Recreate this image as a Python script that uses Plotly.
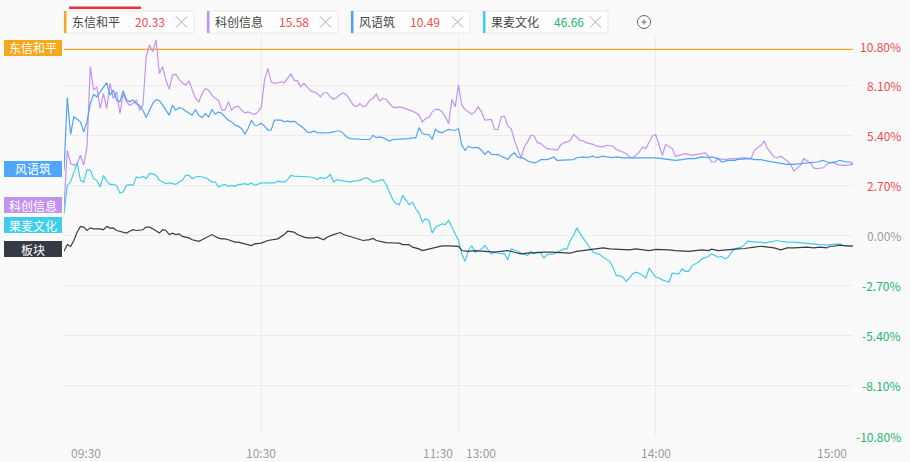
import plotly.graph_objects as go

# ---------------- data (minutes after 09:30 on a 240-minute trading axis, % change) ----------------
dxhp_min = [0, 240]
dxhp_pct = [10.03, 10.03]

kcxx_min = [0,1,2,3,4,5,6,7,8,9,10,11,12,13,14,15,16,17,18,19,20,21,22,23,24,25,26,27,28,29,30,31,32,33,34,35,36,37,38,39,
            40,41,42,43,44,45,46,47,48,49,50,51,52,53,54,55,56,57,58,59,60,61,62,63,64,65,66,67,68,69,70,71,72,73,74,75,76,77,78,79,
            80,81,82,83,84,85,86,87,88,89,90,91,92,93,94,95,96,97,98,99,100,101,102,103,104,105,106,107,108,109,110,111,112,113,114,115,116,117,118,119,
            120,121,122,124,125,126,127,128,130,131,132,133,134,135,136,137,138,139,140,141,142,143,144,145,146,147,149,150,151,152,153,154,155,156,157,158,159,161,162,164,165,167,168,170,171,172,173,174,175,176,177,178,179,
            180,182,183,185,186,189,191,193,195,196,197,198,199,201,203,205,207,209,210,212,213,214,216,217,218,220,221,222,224,225,227,228,229,231,232,234,235,237,238,240]
kcxx_pct = [1.53,4.59,3.87,3.78,3.87,4.32,3.78,4.77,9.09,7.83,8.01,6.84,7.65,6.84,8.19,7.38,7.74,6.57,7.65,7.20,7.02,7.11,7.29,6.75,7.00,9.63,10.26,9.90,10.53,8.73,9.09,8.37,7.87,8.64,8.69,8.41,8.23,8.10,8.33,7.83,
            7.38,7.20,7.65,7.92,7.83,7.56,7.38,7.29,6.75,6.75,7.20,6.75,6.93,6.97,6.75,6.61,6.66,6.57,6.53,6.66,6.90,8.37,9.00,8.28,8.19,8.23,8.28,8.23,8.46,8.69,8.37,8.33,8.01,8.19,8.01,7.79,7.74,7.65,7.47,7.69,
            7.69,7.47,7.34,7.43,7.61,7.69,7.56,7.29,7.02,6.93,7.11,6.93,7.02,7.29,7.38,7.61,7.25,7.38,7.33,7.11,6.93,6.88,6.93,6.89,6.84,6.75,6.70,6.61,6.48,6.12,6.30,6.35,6.66,6.80,6.79,6.66,6.39,6.03,7.33,6.93,
            8.10,7.02,6.79,6.53,6.66,6.93,6.66,6.21,6.25,5.71,5.71,6.39,6.43,5.89,5.76,5.13,4.68,4.19,4.77,5.04,5.40,5.36,5.00,4.95,4.81,4.68,4.64,4.59,4.86,4.99,5.04,5.13,5.44,5.26,5.13,5.09,4.99,4.91,4.81,4.77,4.86,4.81,4.63,4.50,4.41,4.23,4.19,4.32,4.50,4.77,4.68,5.04,5.36,
            5.44,4.32,4.91,4.68,4.27,4.41,4.32,4.37,4.45,4.27,3.96,3.96,4.14,4.09,4.14,4.14,4.19,4.14,4.59,4.86,5.08,4.68,4.23,4.19,4.27,4.01,3.83,3.47,3.78,4.14,3.91,3.64,3.60,3.65,3.83,3.96,3.83,3.78,3.78,3.83]

fyz_min = [0,1,2,3,5,6,7,8,9,10,11,12,13,14,15,16,17,18,19,20,21,22,23,24,25,26,27,28,29,30,31,32,33,34,35,36,37,38,39,
           40,41,42,43,44,45,46,47,48,49,50,51,52,53,54,55,56,57,58,59,60,61,62,63,64,66,67,68,69,70,71,72,73,74,75,76,77,78,79,
           81,83,84,85,86,87,88,90,91,93,94,95,96,97,98,99,100,102,103,105,106,107,108,109,110,111,112,113,114,115,116,117,118,119,
           120,121,122,123,124,126,127,128,129,130,132,133,135,136,137,138,139,140,141,143,144,145,147,148,149,150,153,155,156,158,159,161,162,164,165,167,168,170,
           180,182,184,186,188,190,192,194,196,197,199,200,202,204,205,207,209,210,212,214,216,218,220,222,224,226,228,229,231,232,234,236,238,239,240]
fyz_pct = [3.51,7.43,5.44,6.39,6.12,5.58,6.12,7.11,7.60,7.47,7.74,8.01,8.23,7.56,7.83,7.29,7.20,7.80,7.30,7.20,7.30,7.10,7.00,6.75,6.35,6.75,7.11,7.33,7.26,7.02,6.75,6.48,7.02,6.75,6.88,6.84,6.71,6.57,6.48,
           6.79,6.48,6.35,6.57,6.39,6.79,6.53,6.66,6.57,6.39,6.21,6.12,5.94,5.89,5.76,5.45,5.76,6.21,5.94,5.94,6.05,5.89,5.67,5.67,6.21,6.21,6.12,6.17,6.12,6.16,6.03,5.89,5.76,5.58,5.54,5.63,5.54,5.53,5.53,
           5.54,5.63,5.63,5.49,5.31,5.22,5.20,5.17,5.17,5.17,5.40,5.27,5.31,5.27,5.17,5.09,5.17,5.18,5.22,5.22,5.26,5.26,5.81,5.49,5.44,5.44,5.18,5.71,5.58,5.53,5.63,5.71,5.67,5.67,
           5.76,4.86,4.59,4.81,4.73,4.73,4.59,4.37,4.55,4.37,4.36,4.27,4.09,4.32,4.45,4.23,4.19,4.14,4.01,3.91,3.96,4.09,4.09,4.14,4.23,4.05,4.05,4.09,4.19,4.23,4.19,4.27,4.19,4.27,4.23,4.19,4.23,4.18,
           4.18,4.14,4.09,4.05,4.09,4.14,4.14,4.23,4.19,4.23,4.14,3.96,4.05,4.05,4.10,4.14,4.14,4.09,4.09,4.01,3.96,3.87,3.83,3.83,3.87,3.91,3.96,3.96,4.05,3.96,3.91,4.05,3.96,3.96,3.87]

gmwh_min = [0,1,2,3,4,5,6,7,8,9,10,11,12,13,14,15,16,17,18,19,20,21,22,23,24,25,26,27,28,29,30,31,32,34,35,36,37,38,39,
            40,41,43,44,45,46,47,48,49,50,51,52,53,54,55,56,57,58,59,60,62,64,65,67,68,69,70,72,73,75,76,77,78,79,
            80,81,82,83,84,85,87,88,90,91,92,93,94,96,97,98,99,100,101,102,103,104,105,106,107,108,109,110,111,112,113,114,115,116,117,118,119,
            120,121,122,123,124,125,126,127,128,129,130,131,132,134,135,136,137,138,139,140,141,142,143,144,145,146,147,149,150,151,152,153,154,155,156,157,158,159,160,161,163,164,166,167,168,169,170,171,172,173,174,175,176,177,178,179,
            180,181,182,184,185,187,188,189,190,191,193,194,196,197,198,199,200,201,202,203,204,206,207,208,210,212,213,215,217,218,220,222,224,226,228,230,232,234,236,237,240]
gmwh_pct = [1.17,2.70,2.88,3.42,3.91,2.97,2.88,3.55,3.51,3.06,2.97,2.61,3.24,2.93,2.75,2.75,2.70,2.29,2.34,2.70,2.74,2.70,3.15,3.11,3.19,3.06,3.33,3.33,3.24,2.97,2.88,2.79,2.83,2.75,2.88,2.97,3.24,3.24,3.06,
            3.15,3.19,3.11,3.01,2.88,2.88,2.61,2.70,2.75,2.65,2.70,2.65,2.75,2.75,2.79,2.74,2.83,2.70,2.75,2.83,2.83,2.83,2.93,2.88,3.01,3.24,3.20,3.19,3.15,3.15,3.11,3.01,3.11,3.06,
            3.11,3.29,2.88,3.01,2.97,2.93,2.88,2.93,2.97,3.06,3.11,3.01,2.88,2.97,3.01,2.75,2.34,1.93,1.71,1.66,2.16,1.89,1.66,1.80,1.44,1.21,0.72,0.90,0.81,0.13,0.45,0.54,0.63,0.59,0.81,0.45,0.09,
            -0.27,-0.99,-1.39,-0.81,-0.54,-0.90,-0.85,-0.72,-0.54,-0.77,-0.99,-0.90,-0.95,-0.99,-1.31,-0.72,-0.77,-0.85,-0.95,-1.03,-1.08,-0.85,-0.99,-0.90,-0.95,-1.21,-1.03,-0.99,-0.90,-0.77,-0.72,-0.72,-0.27,0.00,0.41,0.09,-0.13,-0.41,-0.67,-0.90,-1.03,-1.17,-1.39,-1.71,-2.16,-2.16,-2.25,-2.47,-2.29,-2.07,-1.98,-2.03,-2.16,-2.29,-1.75,-2.03,
            -2.25,-2.29,-2.39,-2.52,-2.03,-2.07,-1.80,-1.93,-1.93,-1.62,-1.44,-1.26,-1.13,-0.99,-1.08,-1.17,-1.13,-1.26,-1.17,-0.90,-0.72,-0.63,-0.49,-0.31,-0.36,-0.36,-0.41,-0.36,-0.27,-0.31,-0.36,-0.36,-0.40,-0.41,-0.45,-0.49,-0.50,-0.49,-0.45,-0.54,-0.54]

bk_min = [0,1,2,3,4,5,6,7,8,9,10,11,12,13,14,15,16,17,18,19,20,21,22,23,24,25,26,27,28,29,30,31,32,33,34,35,36,37,38,39,
          40,41,42,43,44,45,46,47,48,49,50,51,52,53,54,55,56,57,58,59,60,62,64,65,67,68,70,71,73,74,76,77,79,
          80,82,84,85,87,88,90,91,93,94,95,97,98,100,102,103,105,106,108,109,111,112,114,115,117,118,
          120,121,123,125,127,129,131,133,135,137,139,141,143,146,148,150,152,154,156,158,160,162,164,166,168,170,172,174,176,178,
          180,182,184,186,188,190,192,194,196,197,199,201,203,205,207,209,210,212,214,216,218,220,222,224,226,228,230,232,233,234,236,238,240]
bk_pct = [-0.85,-0.49,-0.59,-0.27,0.18,0.49,0.45,0.27,0.41,0.36,0.36,0.36,0.31,0.49,0.40,0.41,0.27,0.23,0.18,0.13,0.23,0.31,0.27,0.27,0.31,0.45,0.45,0.36,0.23,0.13,0.31,0.27,0.05,0.13,0.05,0.09,-0.05,-0.09,-0.13,-0.23,
          -0.27,-0.31,-0.23,-0.13,-0.05,0.05,-0.05,-0.14,-0.18,-0.18,-0.23,-0.31,-0.36,-0.36,-0.41,-0.45,-0.49,-0.54,-0.45,-0.41,-0.41,-0.27,-0.22,-0.18,0.05,0.23,0.18,0.05,-0.09,-0.13,-0.13,-0.09,-0.23,
          -0.09,0.05,0.16,0.05,-0.05,-0.09,-0.18,-0.27,-0.22,-0.16,-0.27,-0.34,-0.38,-0.40,-0.41,-0.49,-0.49,-0.63,-0.72,-0.81,-0.72,-0.67,-0.59,-0.56,-0.56,-0.56,
          -0.59,-0.81,-0.85,-0.81,-0.85,-0.85,-0.90,-0.85,-0.81,-0.90,-0.99,-0.95,-0.92,-0.90,-0.90,-0.92,-0.90,-0.95,-0.85,-0.81,-0.77,-0.72,-0.67,-0.72,-0.74,-0.74,-0.77,-0.72,-0.77,-0.81,
          -0.75,-0.74,-0.77,-0.81,-0.85,-0.85,-0.81,-0.77,-0.81,-0.74,-0.81,-0.77,-0.77,-0.72,-0.70,-0.67,-0.63,-0.58,-0.63,-0.67,-0.77,-0.67,-0.67,-0.63,-0.63,-0.67,-0.63,-0.67,-0.58,-0.58,-0.52,-0.56,-0.58]

tab_names = ["东信和平", "科创信息", "风语筑", "果麦文化"]
tab_prices = ["20.33", "15.58", "10.49", "46.66"]
tag_names = ["东信和平", "风语筑", "科创信息", "果麦文化", "板块"]
y_ticks = [10.8, 8.1, 5.4, 2.7, 0.0, -2.7, -5.4, -8.1, -10.8]
x_ticks = [0, 60, 120, 120, 180, 240]
x_labels = ["09:30", "10:30", "11:30", "13:00", "14:00", "15:00"]

# ---------------- style ----------------
C_ORANGE = "#f7a71c"
C_PURPLE = "#c393f3"
C_BLUE = "#4ea3f7"
C_CYAN = "#42cdef"
C_DARK = "#373b46"
RED = "#ef4a4c"
GREEN = "#22b46c"
GRAY = "#9a9a9a"
FONT = "Noto Sans CJK SC, Microsoft YaHei, sans-serif"

W, H = 910, 462
L, R, T, B = 64, 853, 35, 436


def px(x):
    return (x - L) / (R - L)


def py(y):
    return (B - y) / (B - T)


fig = go.Figure()
for xs, ys, col in [(dxhp_min, dxhp_pct, C_ORANGE), (kcxx_min, kcxx_pct, C_PURPLE),
                    (fyz_min, fyz_pct, C_BLUE), (gmwh_min, gmwh_pct, C_CYAN),
                    (bk_min, bk_pct, C_DARK)]:
    fig.add_trace(go.Scatter(x=xs, y=ys, mode="lines", line=dict(color=col, width=1.2),
                             hoverinfo="skip", showlegend=False))

shapes = []
annotations = []

# top tabs
tab_boxes = [(64, 194), (207, 338), (351, 470), (483, 608)]
tab_accent = [C_ORANGE, C_PURPLE, C_BLUE, C_CYAN]
tab_price_x = [133, 277, 408, 552]
tab_price_col = [RED, RED, RED, GREEN]
for i, (x0, x1) in enumerate(tab_boxes):
    shapes.append(dict(type="rect", xref="paper", yref="paper", x0=px(x0), x1=px(x1), y0=py(33), y1=py(11),
                       fillcolor="#ffffff", line=dict(color="#e8e8e8", width=1), layer="above"))
    shapes.append(dict(type="rect", xref="paper", yref="paper", x0=px(x0), x1=px(x0 + 2.5), y0=py(33), y1=py(11),
                       fillcolor=tab_accent[i], line=dict(width=0), layer="above"))
    annotations.append(dict(xref="paper", yref="paper", x=px(x0 + 6), y=py(22), xanchor="left", yanchor="middle",
                            text=tab_names[i], showarrow=False, font=dict(family=FONT, size=12, color="#444444")))
    annotations.append(dict(xref="paper", yref="paper", x=px(tab_price_x[i]), y=py(22), xanchor="left", yanchor="middle",
                            text=tab_prices[i], showarrow=False, font=dict(family=FONT, size=12, color=tab_price_col[i])))
    cx = x1 - 12.5
    for (a, b, c, d) in [(-5.5, -5.5, 5.5, 5.5), (-5.5, 5.5, 5.5, -5.5)]:
        shapes.append(dict(type="line", xref="paper", yref="paper", x0=px(cx + a), y0=py(22 + b), x1=px(cx + c), y1=py(22 + d),
                           line=dict(color="#a8a8a8", width=1), layer="above"))
# red active bar above first tab
shapes.append(dict(type="rect", xref="paper", yref="paper", x0=px(69), x1=px(141), y0=py(9), y1=py(6.5),
                   fillcolor="#e5343c", line=dict(width=0), layer="above"))
# plus circle
shapes.append(dict(type="circle", xref="paper", yref="paper", x0=px(637.5), x1=px(650.5), y0=py(28.5), y1=py(15.5),
                   line=dict(color="#666666", width=1), layer="above"))
shapes.append(dict(type="line", xref="paper", yref="paper", x0=px(641.5), x1=px(646.5), y0=py(22), y1=py(22),
                   line=dict(color="#666666", width=1), layer="above"))
shapes.append(dict(type="line", xref="paper", yref="paper", x0=px(644), x1=px(644), y0=py(19.5), y1=py(24.5),
                   line=dict(color="#666666", width=1), layer="above"))

# left tags
tag_y = [48, 169, 205, 225, 249]
tag_col = [C_ORANGE, "#50a6fb", "#c291f2", "#3fcdee", "#353a46"]
for name, yc, col in zip(tag_names, tag_y, tag_col):
    shapes.append(dict(type="rect", xref="paper", yref="paper", x0=px(4), x1=px(62), y0=py(yc + 8), y1=py(yc - 8),
                       fillcolor=col, line=dict(width=0), layer="above"))
    annotations.append(dict(xref="paper", yref="paper", x=px(33), y=py(yc), xanchor="center", yanchor="middle",
                            text=name, showarrow=False, font=dict(family=FONT, size=12, color="#ffffff")))

# right y labels
for v in y_ticks:
    col = RED if v > 0 else (GREEN if v < 0 else GRAY)
    ys = -11 if v == 10.8 else 0
    annotations.append(dict(xref="paper", yref="y", x=px(903), y=v, xanchor="right", yanchor="middle", yshift=ys,
                            text=f"{v:.2f}%", showarrow=False, font=dict(family=FONT, size=12, color=col)))

# x labels
x_anchor = ["left", "center", "right", "left", "center", "right"]
x_shift = [5, 0, -4, 5, 0, -4]
for xv, lab, anc, sh in zip(x_ticks, x_labels, x_anchor, x_shift):
    annotations.append(dict(xref="x", yref="paper", x=xv, y=py(452), xanchor=anc, yanchor="middle", xshift=sh,
                            text=lab, showarrow=False, font=dict(family=FONT, size=12, color=GRAY)))

fig.update_layout(
    width=W, height=H,
    margin=dict(l=L, r=W - R, t=T, b=H - B),
    paper_bgcolor="#fafafa", plot_bgcolor="#fafafa",
    showlegend=False,
    shapes=shapes, annotations=annotations,
    xaxis=dict(range=[0, 240], tickvals=[60, 120, 180], showticklabels=False, showgrid=True,
               gridcolor="#ececec", gridwidth=1, zeroline=False, showline=False, fixedrange=True),
    yaxis=dict(range=[-10.8, 10.8], tickvals=y_ticks, showticklabels=False, showgrid=True,
               gridcolor="#ececec", gridwidth=1, zeroline=False, showline=False, fixedrange=True),
)

fig.write_html("out.html", config={"displayModeBar": False},
               post_script="document.body.style.margin='0';document.body.style.padding='0';document.body.style.background='#fafafa';")
